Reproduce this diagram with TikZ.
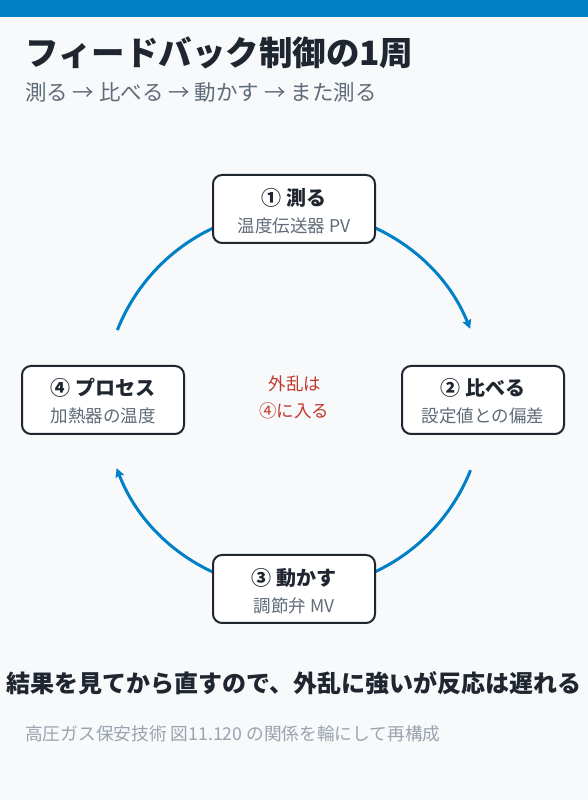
\documentclass[tikz,border=0pt]{standalone}
\usepackage{fontspec}
\setmainfont{Noto Sans CJK JP}
\usetikzlibrary{arrows.meta}
\definecolor{bgc}{HTML}{F7F9FB}
\definecolor{topblue}{HTML}{0080C6}
\definecolor{darktxt}{HTML}{1F2630}
\definecolor{graytxt}{HTML}{5F6B78}
\definecolor{foottxt}{HTML}{9AA3AE}
\definecolor{redtxt}{HTML}{C0392B}
\tikzset{
  stepbox/.style={draw=darktxt, line width=2pt, fill=white, rounded corners=9pt,
    minimum width=162pt, minimum height=68pt, inner sep=0pt},
  boxtitle/.style={font=\bfseries\fontsize{20}{20}\selectfont, text=darktxt, inner sep=0pt},
  boxsub/.style={font=\fontsize{17.5}{17.5}\selectfont, text=graytxt, inner sep=0pt},
  redlabel/.style={inner sep=0pt, text=redtxt, font=\fontsize{17.5}{17.5}\selectfont},
  flow/.style={draw=topblue, line width=3pt, -{Stealth[length=9pt,width=9pt,inset=1.5pt]}},
  flowplain/.style={draw=topblue, line width=3pt},
}
\begin{document}
\begin{tikzpicture}[x=1pt,y=1pt]
\fill[bgc] (0,0) rectangle (588,800);
\useasboundingbox (0,0) rectangle (588,800);
\fill[topblue] (0,783) rectangle (588,800);

\node[anchor=west, inner sep=0pt, text=darktxt, font=\bfseries\fontsize{33.5}{33.5}\selectfont] (title) at (25,747) {フィードバック制御の1周};
\node[anchor=west, inner sep=0pt, text=graytxt, font=\fontsize{21.5}{21.5}\selectfont] (subtitle) at (25,708) {測る → 比べる → 動かす → また測る};

\coordinate (O) at (294,400);
\draw[flowplain] ([shift={(158.4:190)}]O) coordinate (a4) arc[start angle=158.4, end angle=90, radius=190] coordinate (a1);
\draw[flow] (a1) arc[start angle=90, end angle=22.0, radius=190] coordinate (a2);
\draw[flowplain] ([shift={(-21.7:190)}]O) coordinate (b2) arc[start angle=-21.7, end angle=-90, radius=190] coordinate (b3);
\draw[flow] (b3) arc[start angle=-90, end angle=-159, radius=190] coordinate (b4);

\node[stepbox] (n1) at (294,591) {};
\node[stepbox] (n2) at (483,400) {};
\node[stepbox] (n3) at (294,211) {};
\node[stepbox] (n4) at (103,400) {};

\node[boxtitle] (t1) at ([yshift=11pt]n1.center) {① 測る};
\node[boxsub] (s1) at ([yshift=-17pt]n1.center) {温度伝送器 PV};
\node[boxtitle] (t2) at ([yshift=12pt]n2.center) {② 比べる};
\node[boxsub] (s2) at ([yshift=-16pt]n2.center) {設定値との偏差};
\node[boxtitle] (t3) at ([yshift=11pt]n3.center) {③ 動かす};
\node[boxsub] (s3) at ([yshift=-17pt]n3.center) {調節弁 MV};
\node[boxtitle] (t4) at ([yshift=12pt]n4.center) {④ プロセス};
\node[boxsub] (s4) at ([yshift=-16pt]n4.center) {加熱器の温度};

\node[redlabel] (d1) at (295,416) {外乱は};
\node[redlabel] (d2) at (294,389) {④に入る};

\node[inner sep=0pt, text=darktxt, font=\bfseries\fontsize{24}{24}\selectfont] (concl) at (294,117) {結果を見てから直すので、外乱に強いが反応は遅れる};
\node[anchor=west, inner sep=0pt, text=foottxt, font=\fontsize{17.7}{17.7}\selectfont] (foot) at (25,66) {高圧ガス保安技術 図11.120 の関係を輪にして再構成};
\end{tikzpicture}
\end{document}
